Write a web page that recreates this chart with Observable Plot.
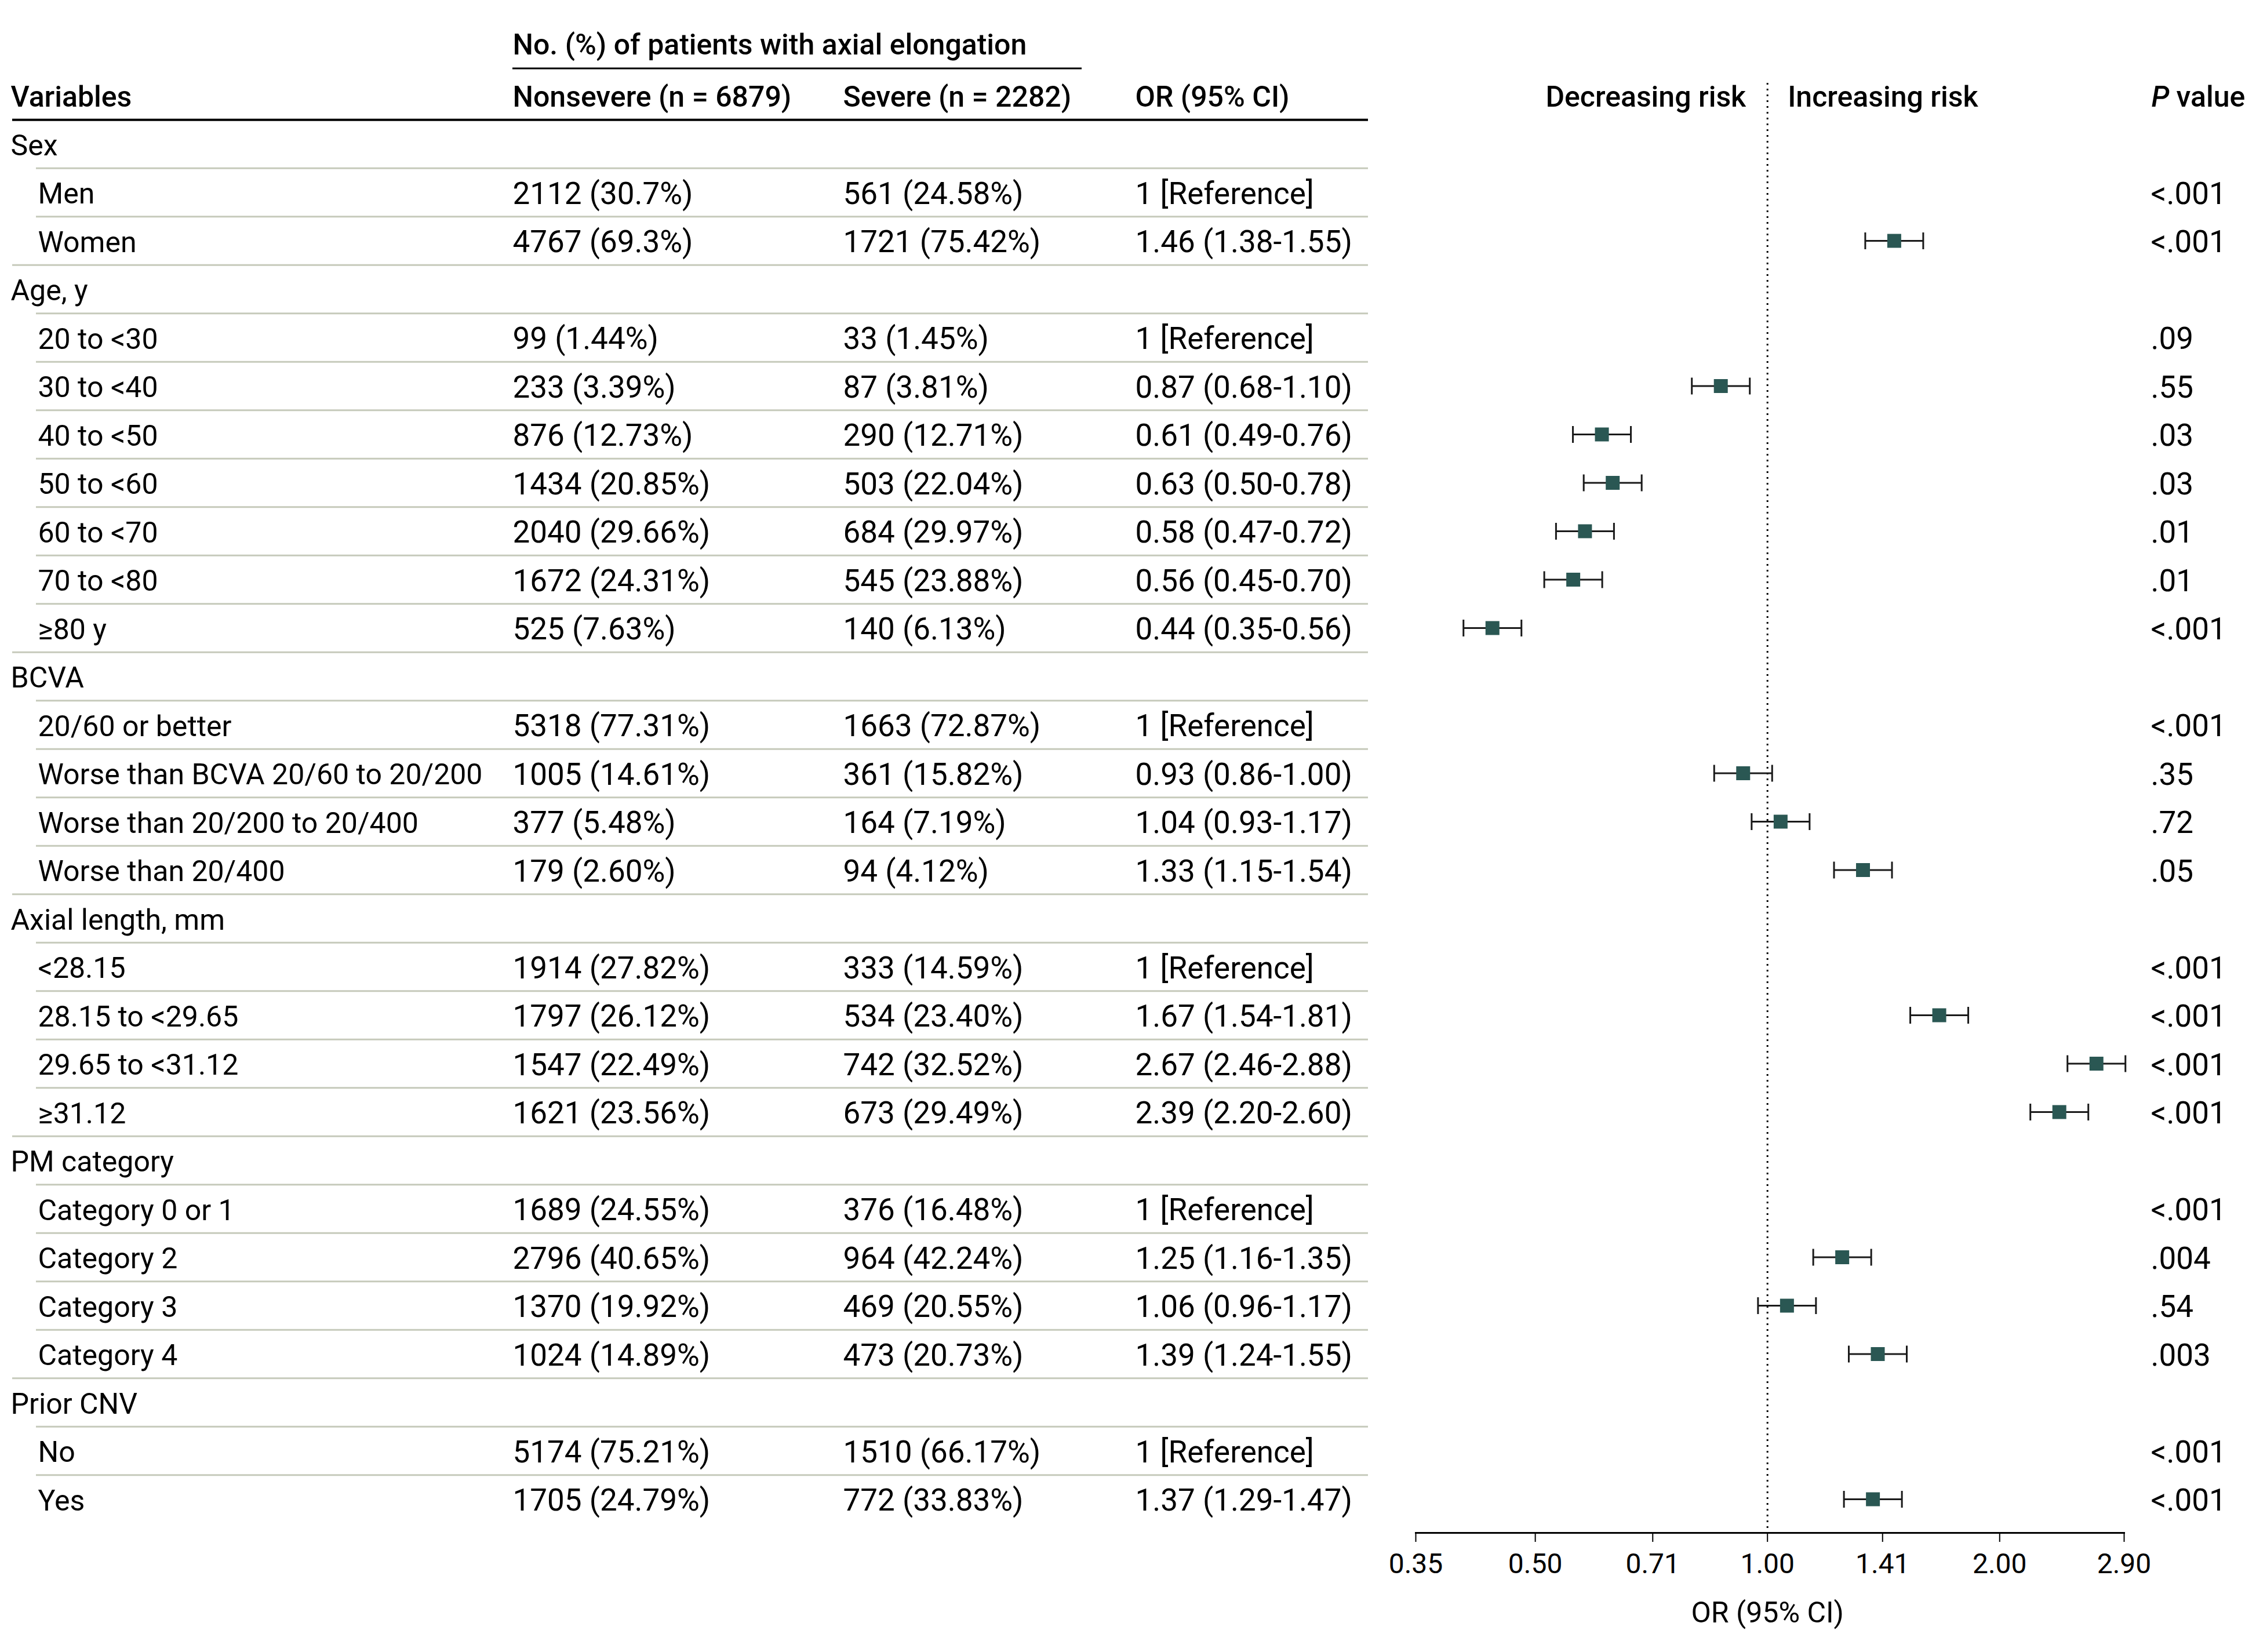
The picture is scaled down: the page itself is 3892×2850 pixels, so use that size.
<!DOCTYPE html>
<html>
<head>
<meta charset="utf-8">
<script src="https://cdn.jsdelivr.net/npm/d3@7"></script>
<script src="https://cdn.jsdelivr.net/npm/@observablehq/plot@0.6"></script>
<style>
  html, body { margin: 0; padding: 0; background: #fff; }
  #chart { display: flex; width: 3892px; height: 2850px; }
  #chart svg { display: block; overflow: visible; }
</style>
</head>
<body>
<div id="chart"></div>
<script>
// ---------------- data ----------------
const groups = ["Sex", "Age, y", "BCVA", "Axial length, mm", "PM category", "Prior CNV"];
const levels = [
  ["Men", "Women"],
  ["20 to <30", "30 to <40", "40 to <50", "50 to <60", "60 to <70", "70 to <80", "≥80 y"],
  ["20/60 or better", "Worse than BCVA 20/60 to 20/200", "Worse than 20/200 to 20/400", "Worse than 20/400"],
  ["<28.15", "28.15 to <29.65", "29.65 to <31.12", "≥31.12"],
  ["Category 0 or 1", "Category 2", "Category 3", "Category 4"],
  ["No", "Yes"]
];
const nonsevereN = [2112, 4767, 99, 233, 876, 1434, 2040, 1672, 525, 5318, 1005, 377, 179, 1914, 1797, 1547, 1621, 1689, 2796, 1370, 1024, 5174, 1705];
const nonseverePct = ["30.7", "69.3", "1.44", "3.39", "12.73", "20.85", "29.66", "24.31", "7.63", "77.31", "14.61", "5.48", "2.60", "27.82", "26.12", "22.49", "23.56", "24.55", "40.65", "19.92", "14.89", "75.21", "24.79"];
const severeN = [561, 1721, 33, 87, 290, 503, 684, 545, 140, 1663, 361, 164, 94, 333, 534, 742, 673, 376, 964, 469, 473, 1510, 772];
const severePct = ["24.58", "75.42", "1.45", "3.81", "12.71", "22.04", "29.97", "23.88", "6.13", "72.87", "15.82", "7.19", "4.12", "14.59", "23.40", "32.52", "29.49", "16.48", "42.24", "20.55", "20.73", "66.17", "33.83"];
// null = reference category
const orValue = [null, 1.46, null, 0.87, 0.61, 0.63, 0.58, 0.56, 0.44, null, 0.93, 1.04, 1.33, null, 1.67, 2.67, 2.39, null, 1.25, 1.06, 1.39, null, 1.37];
const ciLow   = [null, 1.38, null, 0.68, 0.49, 0.50, 0.47, 0.45, 0.35, null, 0.86, 0.93, 1.15, null, 1.54, 2.46, 2.20, null, 1.16, 0.96, 1.24, null, 1.29];
const ciHigh  = [null, 1.55, null, 1.10, 0.76, 0.78, 0.72, 0.70, 0.56, null, 1.00, 1.17, 1.54, null, 1.81, 2.88, 2.60, null, 1.35, 1.17, 1.55, null, 1.47];
const pValues = ["<.001", "<.001", ".09", ".55", ".03", ".03", ".01", ".01", "<.001", "<.001", ".35", ".72", ".05", "<.001", "<.001", "<.001", "<.001", "<.001", ".004", ".54", ".003", "<.001", "<.001"];
const xTicks = [0.35, 0.50, 0.71, 1.00, 1.41, 2.00, 2.90];
const xDomain = [0.35, 2.90];
const spannerText = "No. (%) of patients with axial elongation";
const headerCols = ["Variables", "Nonsevere (n = 6879)", "Severe (n = 2282)", "OR (95% CI)"];

// ---------------- build table ----------------
const f2 = d3.format(".2f");
const rows = [];
let k = 0;
groups.forEach((g, gi) => {
  rows.push({key: "g" + gi, type: "group", label: g});
  levels[gi].forEach(lab => {
    const i = k++;
    rows.push({
      key: "r" + i, type: "level", label: lab,
      ns: `${nonsevereN[i]} (${nonseverePct[i]}%)`,
      sv: `${severeN[i]} (${severePct[i]}%)`,
      orText: orValue[i] == null ? "1 [Reference]" : `${f2(orValue[i])} (${f2(ciLow[i])}-${f2(ciHigh[i])})`,
      or: orValue[i],
      p: pValues[i]
    });
  });
});
const groupRows = rows.filter(d => d.type === "group");
const levelRows = rows.filter(d => d.type === "level");
const orRows = levelRows.filter(d => d.or != null);
const sepFull = [], sepSub = [];
rows.forEach((d, j) => {
  if (j === rows.length - 1) return;
  (rows[j + 1].type === "group" ? sepFull : sepSub).push(d);
});

// ---------------- layout / style ----------------
const H = 2850;
const FS = 50;      // label font size
const FN = 53;      // numeric cells font size
const BW = 83.5;    // row height
const yCfg = {
  type: "band", domain: ["header", ...rows.map(d => d.key)],
  range: [122.75, 122.75 + BW * (rows.length + 1)], padding: 0, round: false, axis: null
};
const baseStyle = {fontFamily: "Roboto, 'Noto Sans', sans-serif", fontSize: FS + "px", color: "#000", background: "transparent", overflow: "visible"};
const sepColor = "#c6cabb";
const TW = 2362;  // table width
const col = {group: 18, level: 65, ns: 884, sv: 1454, or: 1958};
const lineLeftFull = 21, lineLeftSub = 62, lineRight = 2360;
const tdy = 3;

const T = (data, text, dx, extra = {}) => Plot.text(data, {
  y: "key", text, frameAnchor: "left", textAnchor: "start", dx, dy: tdy, ...extra
});
const H1 = (label, dx, extra = {}) => Plot.text([label], {
  y: () => "header", text: d => d, frameAnchor: "left", textAnchor: "start", dx, dy: tdy, fontWeight: 500, ...extra
});

const table = Plot.plot({
  width: TW, height: H, marginLeft: 0, marginRight: 0, marginTop: 0, marginBottom: 0,
  style: baseStyle,
  y: yCfg,
  marks: [
    // spanner
    Plot.ruleY(["header"], {y: d => d, dy: -47, insetLeft: col.ns, insetRight: TW - 1866, stroke: "#000", strokeWidth: 3}),
    H1(spannerText, col.ns, {dy: -90.5 + tdy}),
    // header row
    H1(headerCols[0], col.group),
    H1(headerCols[1], col.ns),
    H1(headerCols[2], col.sv),
    H1(headerCols[3], col.or),
    Plot.ruleY(["header"], {y: d => d, dy: BW / 2, insetLeft: lineLeftFull, insetRight: TW - lineRight, stroke: "#000", strokeWidth: 4}),
    // separators
    Plot.ruleY(sepFull, {y: "key", dy: BW / 2, insetLeft: lineLeftFull, insetRight: TW - lineRight, stroke: sepColor, strokeWidth: 3}),
    Plot.ruleY(sepSub, {y: "key", dy: BW / 2, insetLeft: lineLeftSub, insetRight: TW - lineRight, stroke: sepColor, strokeWidth: 3}),
    // cells
    T(groupRows, "label", col.group),
    T(levelRows, "label", col.level),
    T(levelRows, "ns", col.ns, {fontSize: FN}),
    T(levelRows, "sv", col.sv, {fontSize: FN}),
    T(levelRows, "orText", col.or, {fontSize: FN})
  ]
});

// whisker glyph (fixed-width error bar as drawn in the figure)
const whisker = {
  draw(ctx) {
    ctx.moveTo(-50, 0); ctx.lineTo(50, 0);
    ctx.moveTo(-50, -14.5); ctx.lineTo(-50, 14.5);
    ctx.moveTo(50, -14.5); ctx.lineTo(50, 14.5);
  }
};

const forest = Plot.plot({
  width: 3892 - TW, height: H, marginLeft: 2442 - TW, marginRight: 228, marginTop: 143, marginBottom: 206,
  style: baseStyle,
  x: {type: "log", domain: xDomain},
  y: yCfg,
  marks: [
    Plot.ruleX([1], {stroke: "#000", strokeWidth: 3, strokeDasharray: "3 7"}),
    Plot.frame({anchor: "bottom", stroke: "#000", strokeWidth: 3}),
    Plot.axisX({ticks: xTicks, tickFormat: f2, tickSize: 16, tickPadding: 19, fontSize: 48, strokeWidth: 2, label: null}),
    Plot.text(["OR (95% CI)"], {x: () => 1, text: d => d, frameAnchor: "bottom", dy: 151 + tdy}),
    Plot.text(["Decreasing risk"], {x: () => 1, y: () => "header", text: d => d, textAnchor: "end", dx: -37, dy: tdy, fontWeight: 500}),
    Plot.text(["Increasing risk"], {x: () => 1, y: () => "header", text: d => d, textAnchor: "start", dx: 35, dy: tdy, fontWeight: 500}),
    Plot.text(["P"], {y: () => "header", text: d => d, frameAnchor: "right", textAnchor: "start", dx: 47, dy: tdy, fontStyle: "italic", fontWeight: 500}),
    Plot.text(["value"], {y: () => "header", text: d => d, frameAnchor: "right", textAnchor: "start", dx: 90, dy: tdy, fontWeight: 500}),
    Plot.text(levelRows, {y: "key", text: "p", frameAnchor: "right", textAnchor: "start", dx: 46, dy: tdy, fontSize: FN}),
    Plot.dot(orRows, {x: "or", y: "key", symbol: whisker, r: 10, stroke: "#1a1a1a", strokeWidth: 3, fill: "none"}),
    Plot.dot(orRows, {x: "or", y: "key", symbol: "square", r: 24 / Math.sqrt(Math.PI), fill: "#2a5753", stroke: "none"})
  ]
});

const chart = document.getElementById("chart");
chart.append(table, forest);
</script>
</body>
</html>
